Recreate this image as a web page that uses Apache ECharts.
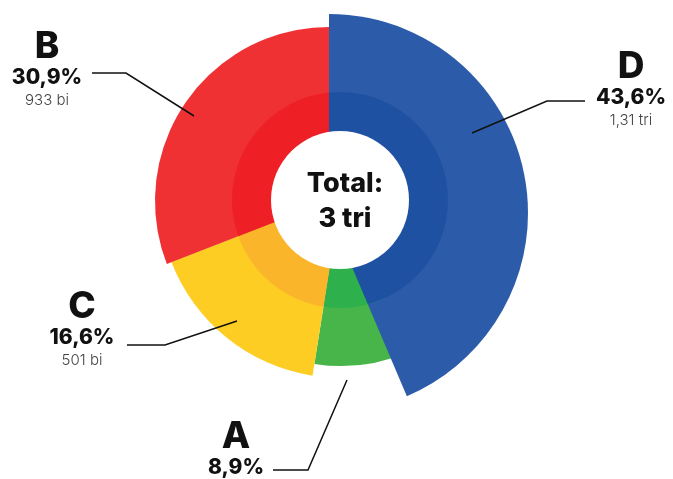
<!DOCTYPE html>
<html>
<head>
<meta charset="utf-8">
<script src="https://cdn.jsdelivr.net/npm/echarts@6/dist/echarts.min.js"></script>
<style>
html,body{margin:0;padding:0;background:#fff;}
#chart{width:673px;height:479px;}
</style>
</head>
<body>
<div id="chart"></div>
<script>
// ---- data ----
const categories = ['D', 'A', 'C', 'B'];
const shares = [43.6, 8.9, 16.6, 30.9];
const shareLabels = ['43,6%', '8,9%', '16,6%', '30,9%'];
const amountLabels = ['1,31 tri', '', '501 bi', '933 bi'];
const totalLabel = ['Total:', '3 tri'];

// ---- style ----
const outerColors = ['#2C5CA9', '#47B54A', '#FECD23', '#EF3134'];
const innerColors = ['#1F51A3', '#2EB14C', '#FBB52A', '#EE1F25'];
const sliceCenters = [[329, 213], [341, 196], [341, 196], [329, 201]];
const sliceRadii = [199, 170, 182, 174];
const drawOrder = [4, 1, 2, 3];
const ringCenter = [340, 200];
const holeR = 69, ringR = 108;
const labelPos = [[631, 48], [236, 418], [82, 288], [47, 28]];
const linePts = [
  [[585, 101], [547, 101], [472, 133]],
  [[273, 470], [308, 470], [347, 380]],
  [[127, 345], [165, 345], [237, 321]],
  [[92, 73], [126, 73], [194, 116]]
];

const FONT = 'Inter, Roboto, sans-serif';
const total = shares.reduce((a, b) => a + b, 0);

// light outer slices: one pie per slice (own centre / radius)
const slicePies = categories.map((cat, i) => ({
  type: 'pie',
  z: 2,
  center: sliceCenters[i],
  radius: [0, sliceRadii[i]],
  startAngle: 90,
  clockwise: true,
  silent: true,
  animation: false,
  emphasis: {disabled: true},
  label: {show: false},
  labelLine: {show: false},
  data: categories.map((c, j) => ({
    name: c,
    value: shares[j],
    itemStyle: {color: j === i ? outerColors[j] : 'rgba(0,0,0,0)'}
  }))
}));
// drawn A, C, B, D
const ordered = [1, 2, 3, 0].map(k => slicePies[k]);

// darker inner ring
const ringSeries = {
  type: 'custom',
  coordinateSystem: 'none',
  z: 3,
  silent: true,
  animation: false,
  data: shares,
  renderItem: (params, api) => {
    const k = params.dataIndex;
    let cum = 0;
    for (let j = 0; j < k; j++) cum += shares[j];
    const a0 = -Math.PI / 2 + cum / total * Math.PI * 2;
    const a1 = a0 + api.value(0) / total * Math.PI * 2;
    return {
      type: 'sector',
      z2: drawOrder[k],
      shape: {cx: sliceCenters[k][0], cy: sliceCenters[k][1], r0: 0, r: 160, startAngle: a0, endAngle: a1, clockwise: true},
      style: {fill: innerColors[k]},
      clipPath: {type: 'circle', shape: {cx: ringCenter[0], cy: ringCenter[1], r: ringR}}
    };
  }
};

// white hole (one disc holding the total)
const holeSeries = {
  type: 'pie',
  z: 4,
  center: ringCenter,
  radius: [0, holeR],
  silent: true,
  animation: false,
  emphasis: {disabled: true},
  label: {show: false},
  labelLine: {show: false},
  data: [{name: 'Total', value: total, itemStyle: {color: '#ffffff'}}]
};

// labels
const labelSeries = {
  type: 'pie',
  z: 5,
  center: [329, 212],
  radius: [0, 5],
  startAngle: 90,
  silent: true,
  animation: false,
  avoidLabelOverlap: false,
  emphasis: {disabled: true},
  data: categories.map((c, j) => ({name: c, value: shares[j], itemStyle: {color: 'rgba(0,0,0,0)'}})),
  label: {
    show: true,
    position: 'outside',
    fontFamily: FONT,
    formatter: (p) => {
      const k = p.dataIndex;
      let s = '{n|' + categories[k] + '}\n{p|' + shareLabels[k] + '}';
      if (amountLabels[k]) s += '\n{v|' + amountLabels[k] + '}';
      return s;
    },
    rich: {
      n: {fontFamily: FONT, fontSize: 37, fontWeight: 800, color: '#111', lineHeight: 38, align: 'center'},
      p: {fontFamily: FONT, fontSize: 21, fontWeight: 800, color: '#111', lineHeight: 24, align: 'center'},
      v: {fontFamily: FONT, fontSize: 15, fontWeight: 300, color: '#444', lineHeight: 20, align: 'center'}
    }
  },
  labelLine: {show: true, lineStyle: {color: '#111', width: 1.5}},
  labelLayout: (p) => {
    const k = p.dataIndex;
    return {
      x: labelPos[k][0],
      y: labelPos[k][1],
      align: 'center',
      verticalAlign: 'top',
      labelLinePoints: linePts[k]
    };
  }
};

const chart = echarts.init(document.getElementById('chart'), null, {renderer: 'canvas'});
chart.setOption({
  backgroundColor: '#fff',
  animation: false,
  title: {
    text: totalLabel.join('\n'),
    left: ringCenter[0],
    top: 161,
    z: 10,
    textAlign: 'center',
    textStyle: {fontFamily: FONT, fontSize: 27, fontWeight: 800, color: '#111', lineHeight: 35}
  },
  series: ordered.concat([ringSeries, holeSeries, labelSeries])
});
</script>
</body>
</html>
